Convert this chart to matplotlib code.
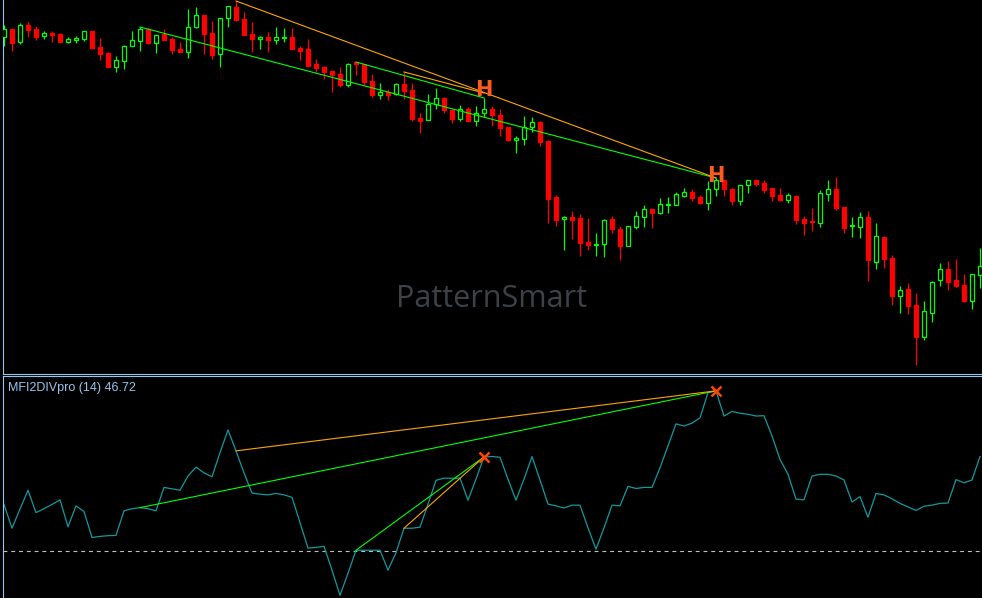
import numpy as np
import matplotlib.pyplot as plt

# price bars, in points
opens = [363, 371, 358, 375, 371, 364, 367, 366, 358, 360,
         361, 369, 353, 347, 333, 339, 354, 359, 371, 357,
         366, 361, 351, 348, 373, 385, 367, 346, 382, 393,
         381, 366, 361, 363, 360, 362, 363, 352, 351, 336,
         333, 329, 326, 315, 338, 336, 319, 305, 308, 306,
         316, 310, 282, 280, 296, 302, 290, 281, 291, 279,
         287, 291, 285, 273, 260, 261, 273, 278, 259, 203,
         181, 183, 182, 158, 155, 156, 181, 171, 154, 173,
         183, 191, 187, 195, 195, 204, 208, 203, 197, 211,
         220, 211, 199, 215, 220, 217, 212, 205, 200, 204,
         181, 179, 177, 206, 211, 193, 174, 173, 183, 138,
         163, 142, 104, 111, 95, 63, 87, 120, 131, 120,
         115, 99, 125]
highs = [375, 371, 377, 378, 374, 369, 369, 367, 363, 364,
         369, 369, 362, 348, 344, 355, 369, 373, 372, 365,
         371, 363, 358, 391, 393, 385, 379, 382, 394, 399,
         388, 378, 364, 368, 373, 372, 372, 354, 361, 341,
         334, 329, 333, 337, 338, 336, 326, 317, 311, 317,
         328, 317, 287, 306, 312, 303, 291, 295, 293, 294,
         302, 294, 291, 273, 264, 284, 283, 279, 260, 205,
         184, 189, 186, 182, 167, 181, 184, 174, 174, 189,
         195, 191, 202, 203, 208, 212, 211, 205, 219, 222,
         220, 212, 215, 220, 220, 220, 212, 212, 207, 205,
         184, 192, 210, 220, 223, 193, 183, 188, 189, 177,
         163, 145, 114, 117, 107, 99, 119, 137, 139, 141,
         126, 126, 152]
lows = [354, 349, 356, 363, 360, 361, 358, 358, 357, 357,
        359, 351, 340, 333, 328, 331, 354, 349, 356, 347,
        360, 346, 348, 342, 372, 346, 341, 333, 373, 379,
        365, 348, 351, 348, 356, 358, 351, 340, 334, 328,
        321, 308, 313, 313, 325, 315, 303, 301, 300, 305,
        301, 279, 267, 280, 291, 287, 277, 279, 279, 274,
        283, 274, 264, 259, 247, 255, 268, 254, 177, 174,
        150, 161, 144, 150, 144, 143, 167, 140, 154, 171,
        173, 172, 186, 187, 195, 203, 199, 196, 190, 204,
        204, 195, 195, 207, 214, 207, 199, 199, 197, 176,
        165, 169, 173, 199, 190, 167, 163, 162, 119, 131,
        132, 95, 87, 86, 35, 60, 78, 114, 110, 113,
        98, 91, 112]
closes = [371, 357, 375, 370, 363, 367, 365, 358, 361, 362,
          369, 352, 346, 333, 340, 354, 360, 371, 357, 365,
          360, 350, 348, 373, 385, 366, 345, 382, 394, 380,
          365, 361, 363, 360, 363, 363, 351, 349, 334, 332,
          328, 325, 315, 336, 336, 318, 305, 308, 305, 316,
          309, 281, 279, 296, 302, 290, 281, 291, 279, 287,
          291, 285, 272, 260, 262, 273, 278, 258, 201, 180,
          183, 180, 157, 155, 156, 180, 171, 154, 174, 184,
          191, 187, 196, 196, 206, 208, 202, 197, 211, 220,
          211, 199, 215, 220, 216, 210, 204, 200, 205, 180,
          177, 178, 207, 211, 192, 172, 175, 183, 140, 164,
          141, 104, 110, 94, 63, 89, 118, 131, 118, 114,
          99, 126, 134]

# MFI(14)
mfi = [33.2, 26.5, 31.9, 37.2, 30.9, 32.0, 33.2, 34.5, 26.9, 32.8,
       31.2, 23.9, 24.2, 24.4, 24.5, 31.4, 32.0, 32.3, 32.0, 31.4,
       38.0, 37.6, 37.2, 41.2, 43.7, 42.1, 41.0, 47.8, 54.2, 48.3,
       42.1, 36.4, 36.1, 35.9, 36.3, 35.9, 35.2, 28.1, 20.9, 21.1,
       21.4, 14.7, 7.6, 13.8, 20.3, 20.3, 20.3, 20.3, 14.7, 19.6,
       26.5, 26.5, 26.8, 33.3, 40.0, 40.6, 40.6, 40.6, 34.4, 40.3,
       46.6, 46.7, 46.5, 40.3, 34.4, 40.3, 46.7, 40.1, 33.3, 32.8,
       32.2, 33.0, 33.0, 26.6, 20.6, 26.6, 33.0, 32.8, 38.3, 37.7,
       38.0, 38.0, 43.5, 49.7, 55.9, 55.3, 56.1, 57.6, 64.7, 65.2,
       58.1, 59.4, 58.9, 58.6, 58.1, 58.2, 52.5, 45.9, 41.7, 34.7,
       34.5, 41.2, 41.7, 41.7, 41.2, 40.1, 33.9, 35.4, 29.6, 36.3,
       35.9, 34.8, 33.5, 32.5, 31.5, 32.7, 33.0, 33.5, 33.6, 40.2,
       39.3, 40.1, 46.72]
mfi_level = 20

# divergences: (start bar, start price, end bar, end price)
price_green = [(17, 373, 89, 222), (44, 338, 60, 302)]
price_orange = [(29, 399, 89, 222), (50, 328, 60, 307)]
# same divergences on the indicator: (start bar, end bar)
mfi_green = [(17, 89), (44, 60)]
mfi_orange = [(29, 89), (50, 60)]
# "H" labels: (bar, price)
h_labels = [(60, 310), (89, 224)]

W, H = 982, 598
bg = 'black'
frame = '#96c6ee'
thin = 0.8

fig = plt.figure(figsize=(W / 100, H / 100), dpi=100, facecolor=bg)


def px_axes(x0, y0, x1, y1):
    a = fig.add_axes([x0 / W, 1 - y1 / H, (x1 - x0) / W, (y1 - y0) / H])
    a.set_facecolor(bg)
    a.set_xticks([])
    a.set_yticks([])
    for s in a.spines.values():
        s.set_color(frame)
        s.set_linewidth(0.8)
    return a


def bar_of_px(p):
    # bars are 8 px apart, first one at x = 4 px
    return (p - 4) / 8


ax = px_axes(2.5, 0, 985, 374)
ax.spines['top'].set_visible(False)
ax.spines['right'].set_visible(False)
ax2 = px_axes(2.5, 376, 985, 598)
ax2.spines['bottom'].set_visible(False)
ax2.spines['right'].set_visible(False)
for a in (ax, ax2):
    a.set_xlim(bar_of_px(2.5), bar_of_px(985))
ax.set_ylim(26, 400)
ax2.set_ylim(6.85, 69.38)

# candles
idx = np.arange(len(opens))
o, hi, lo, c = map(np.array, (opens, highs, lows, closes))
up = c >= o
for mask, col, face in ((up, '#00ff00', 'black'), (~up, '#ff0000', '#ff0000')):
    ax.vlines(idx[mask], lo[mask], hi[mask], color=col, lw=0.9, zorder=2)
    ax.bar(idx[mask], (c - o)[mask], bottom=o[mask], width=0.6,
           color=face, edgecolor=col, lw=0.9, zorder=3)

for k0, v0, k1, v1 in price_green:
    ax.plot([k0, k1], [v0, v1], color='#00ff00', lw=thin, zorder=4)
for k0, v0, k1, v1 in price_orange:
    ax.plot([k0, k1], [v0, v1], color='#ffa500', lw=thin, zorder=4)
for k, v in h_labels:
    ax.text(k, v, 'H', color='#ff5a1e', fontsize=15, fontweight='bold',
            family=['Liberation Sans Narrow', 'DejaVu Sans'],
            ha='center', va='center', zorder=5)

fig.text(492 / W, 1 - 299 / H, 'PatternSmart', color='#3b4248',
         fontsize=22, family='Open Sans', ha='center', va='center')

# indicator window
m = np.array(mfi)
ax2.plot(idx, m, color='#0e9ba0', lw=0.9, zorder=2)
ax2.axhline(mfi_level, color='#c0c0c0', lw=0.8, ls=(0, (3.5, 3.5)), zorder=1)
for k0, k1 in mfi_green:
    ax2.plot([k0, k1], [m[k0], m[k1]], color='#00ff00', lw=thin, zorder=3)
for k0, k1 in mfi_orange:
    ax2.plot([k0, k1], [m[k0], m[k1]], color='#ffa500', lw=thin, zorder=3)
peaks = [k1 for k0, k1 in mfi_green]
ax2.plot(peaks, m[peaks], 'x', color='#ff4500', ms=7, mew=1.8, zorder=4)

fig.text(8 / W, 1 - 388 / H, 'MFI2DIVpro (14) %.2f' % mfi[-1], color=frame,
         fontsize=9, family='Liberation Sans', va='center')

fig.savefig('out.png', dpi=100, facecolor=bg)
